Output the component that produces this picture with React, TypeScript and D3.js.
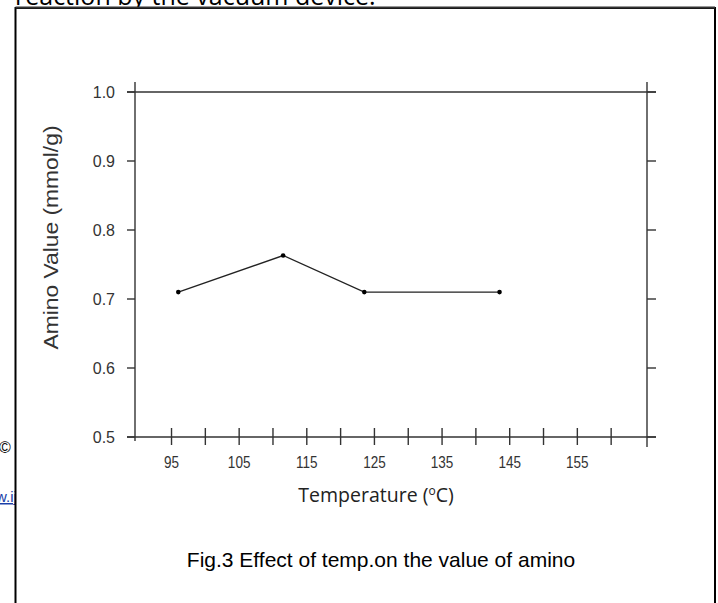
import React from "react";
import * as d3 from "d3";

const temps = [96, 111.5, 123.5, 143.5];
const aminoValues = [0.71, 0.763, 0.71, 0.71];
const xMajorTicks = [95, 105, 115, 125, 135, 145, 155];
const xMinorTicks = [100, 110, 120, 130, 140, 150, 160];
const yTicks = [0.5, 0.6, 0.7, 0.8, 0.9, 1.0];

const W = 718;
const H = 603;

export default function App() {
  const x = d3.scaleLinear().domain([89.6, 165.3]).range([135, 647]);
  const y = d3.scaleLinear().domain([0.5, 1.0]).range([437, 92]);
  const line = d3
    .line<number>()
    .x((_, i) => x(temps[i]))
    .y((d) => y(d));
  const axisColor = "#333";
  const left = x.range()[0];
  const right = x.range()[1];
  const top = y.range()[1];
  const bottom = y.range()[0];

  return (
    <svg
      width={W}
      height={H}
      style={{ position: "absolute", left: 0, top: 0, background: "#fff" }}
    >
      <rect x={0} y={0} width={W} height={H} fill="#fff" />
      {/* background page text */}
      <text x={15} y={5} fontFamily="Open Sans" fontSize={25} fill="#000">
        reaction by the vacuum device.
      </text>
      <text x={-1} y={453} fontFamily="Liberation Sans" fontSize={16} fill="#000">
        © 2
      </text>
      <text
        x={-4}
        y={502}
        fontFamily="Liberation Sans"
        fontSize={15}
        fill="#1a3ea8"
        textDecoration="underline"
      >
        w.ij
      </text>
      {/* frame */}
      <rect x={15.5} y={8} width={699.5} height={620} fill="#fff" stroke="#000" strokeWidth={2} />
      <line x1={15.5} x2={715} y1={7.5} y2={7.5} stroke="#333" strokeWidth={2} />

      {/* axes box */}
      <line x1={left} x2={left} y1={82} y2={441} stroke={axisColor} strokeWidth={1.4} />
      <line x1={right} x2={right} y1={82} y2={447} stroke={axisColor} strokeWidth={1.4} />
      <line x1={127} x2={656} y1={top} y2={top} stroke={axisColor} strokeWidth={1.4} />
      <line x1={127} x2={656} y1={bottom} y2={bottom} stroke={axisColor} strokeWidth={1.4} />

      {/* y ticks */}
      {yTicks.map((t) => (
        <g key={t}>
          <line x1={127} x2={left} y1={y(t)} y2={y(t)} stroke={axisColor} strokeWidth={1.4} />
          <line x1={right} x2={656} y1={y(t)} y2={y(t)} stroke={axisColor} strokeWidth={1.4} />
          <text
            x={115}
            y={y(t)}
            dy="0.36em"
            textAnchor="end"
            fontFamily="Liberation Sans"
            fontSize={16}
            fill="#333"
          >
            {t.toFixed(1)}
          </text>
        </g>
      ))}

      {/* x ticks */}
      {[...xMajorTicks, ...xMinorTicks].map((t) => (
        <line
          key={t}
          x1={x(t)}
          x2={x(t)}
          y1={bottom - 9}
          y2={bottom + 8}
          stroke={axisColor}
          strokeWidth={1.4}
        />
      ))}
      {xMajorTicks.map((t) => (
        <text
          key={"l" + t}
          x={x(t)}
          y={468}
          textAnchor="middle"
          fontFamily="Liberation Sans"
          fontSize={16.5}
          fill="#333"
          transform={`translate(${x(t)},0) scale(0.82,1) translate(${-x(t)},0)`}
        >
          {t}
        </text>
      ))}

      {/* data */}
      <path d={line(aminoValues) || ""} fill="none" stroke="#222" strokeWidth={1.3} />
      {aminoValues.map((v, i) => (
        <circle key={i} cx={x(temps[i])} cy={y(v)} r={2.3} fill="#000" />
      ))}

      {/* axis titles */}
      <text
        transform={`translate(58,237.5) rotate(-90)`}
        textAnchor="middle"
        fontFamily="Liberation Sans"
        fontSize={20}
        fill="#333"
        textLength={224}
        lengthAdjust="spacingAndGlyphs"
      >
        Amino Value (mmol/g)
      </text>
      <text
        x={376}
        y={502}
        textAnchor="middle"
        fontFamily="Open Sans"
        fontSize={19.5}
        fill="#222"
      >
        Temperature (
        <tspan fontSize={12} dy={-7}>o</tspan>
        <tspan dy={7}>C)</tspan>
      </text>

      {/* caption */}
      <text
        x={381}
        y={567}
        textAnchor="middle"
        fontFamily="Liberation Sans"
        fontSize={21}
        fill="#000"
      >
        Fig.3 Effect of temp.on the value of amino
      </text>
    </svg>
  );
}
